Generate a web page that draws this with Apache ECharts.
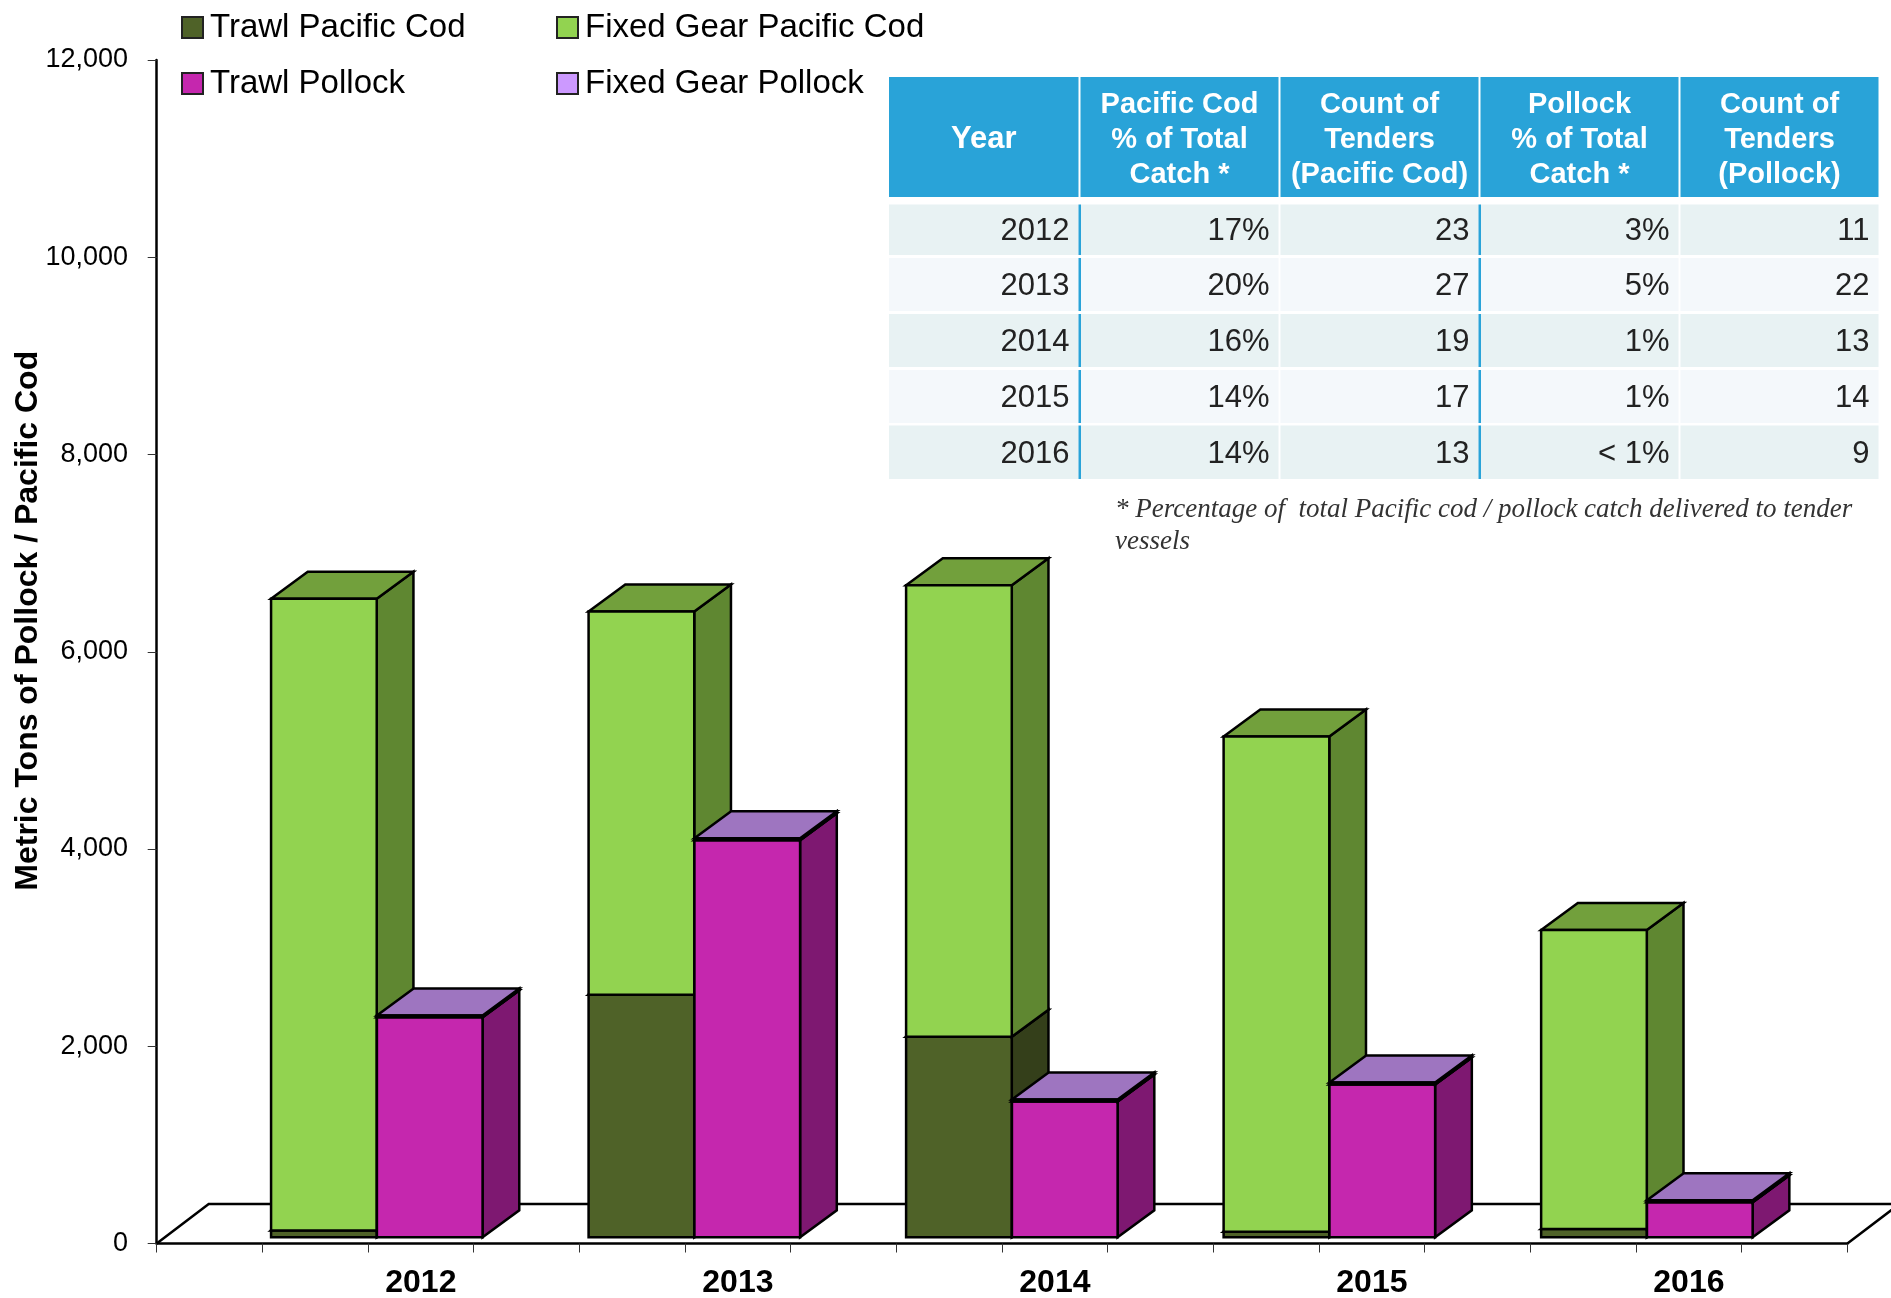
<!DOCTYPE html>
<html>
<head>
<meta charset="utf-8">
<title>Tender deliveries of Pacific cod and pollock</title>
<script src="https://cdn.jsdelivr.net/npm/echarts@6/dist/echarts.min.js"></script>
<style>
    html, body { margin: 0; background: #fff; }
    #chart { width: 1891px; height: 1298px; }
</style>
</head>
<body>
<div id="chart"></div>
<script>
var years = ['2012', '2013', '2014', '2015', '2016'];
var trawlCod = [70, 2459, 2034, 57, 84];
var fixedCod = [6404, 3887, 4578, 5021, 3032];
var trawlPollock = [2230, 4027, 1377, 1549, 355];
var fixedPollock = [20, 20, 20, 20, 20];
var yTicks = [0, 2000, 4000, 6000, 8000, 10000, 12000];

var tableHeaders = ['Year', 'Pacific Cod\n% of Total\nCatch *', 'Count of\nTenders\n(Pacific Cod)', 'Pollock\n% of Total\nCatch *', 'Count of\nTenders\n(Pollock)'];
var codShare = ['17%', '20%', '16%', '14%', '14%'];
var codTenders = ['23', '27', '19', '17', '13'];
var pollockShare = ['3%', '5%', '1%', '1%', '< 1%'];
var pollockTenders = ['11', '22', '13', '14', '9'];
var footnote = '* Percentage of  total Pacific cod / pollock catch delivered to tender\nvessels';

(function () {

    'use strict';

    var chart = echarts.init(document.getElementById('chart'), null, {renderer: 'canvas'});

    // the 3D look: each bar sits a little behind the axis plane and has some depth
    var barOffset = [8.7, -6.2];
    var barDepth = [36.7, -27];
    var floorDepth = [52, -39.5];
    var barDrift = 0.17; // the bars run slightly wider than the ticks in the original

    // 16 slots on the axis: gap, cod, pollock, gap, cod, pollock ...
    var slotLabels = [''];
    years.forEach(function (y) {
        slotLabels.push('', y, '');
    });

    function poly(points, fill, lineWidth) {
        return {
            type: 'polygon',
            shape: {points: points},
            style: {fill: fill, stroke: '#000', lineWidth: lineWidth, lineJoin: 'miter'}
        };
    }

    function renderBox(colors) {
        return function (params, api) {
            var w = api.size([1, 0])[0];
            var base = api.coord([api.value(0), api.value(1)]);
            var top = api.coord([api.value(0), api.value(2)]);
            var x0 = base[0] - w / 2 + barOffset[0] + (api.value(0) - 1) * barDrift;
            var x1 = x0 + w;
            var y0 = base[1] + barOffset[1];
            var y1 = top[1] + barOffset[1];
            var dx = barDepth[0];
            var dy = barDepth[1];
            return {
                type: 'group',
                children: [
                    poly([[x1, y0], [x1 + dx, y0 + dy], [x1 + dx, y1 + dy], [x1, y1]], colors.side, 2.5),
                    poly([[x0, y1], [x1, y1], [x1 + dx, y1 + dy], [x0 + dx, y1 + dy]], colors.top, 2.5),
                    poly([[x0, y0], [x1, y0], [x1, y1], [x0, y1]], colors.front, 2.5)
                ]
            };
        };
    }

    function boxSeries(name, slotStart, values, under, colors) {
        return {
            type: 'custom',
            name: name,
            clip: false,
            encode: {x: 0, y: 2},
            itemStyle: {color: colors.front},
            renderItem: renderBox(colors),
            data: values.map(function (v, i) {
                return [slotStart + i * 3, under[i], under[i] + v];
            })
        };
    }

    var noBase = [0, 0, 0, 0, 0];

    var floorSeries = {
        type: 'custom',
        silent: true,
        clip: false,
        encode: {x: 0, y: 1},
        data: [[0, 0]],
        renderItem: function (params, api) {
            var w = api.size([1, 0])[0];
            var a = api.coord([0, 0]);
            var b = api.coord([slotLabels.length - 1, 0]);
            var left = a[0] - w / 2;
            var right = b[0] + w / 2;
            return {
                type: 'polyline',
                shape: {points: [
                    [left, a[1]],
                    [left + floorDepth[0], a[1] + floorDepth[1]],
                    [right + floorDepth[0], a[1] + floorDepth[1]],
                    [right, a[1]]
                ]},
                style: {fill: null, stroke: '#000', lineWidth: 2.5}
            };
        }
    };

    // table, drawn as graphic elements over the empty part of the chart
    var colX = [888, 1079.5, 1279.5, 1479.5, 1679.5, 1879.5];
    var rowY = [204.5, 258, 314, 370, 425.5];
    var rowH = [50.5, 53, 53, 53, 53.5];
    var columns = [years, codShare, codTenders, pollockShare, pollockTenders];
    var rowColors = ['#E8F2F3', '#F4F8FB'];
    var tableBlue = '#29A3D8';
    var tableItems = [];

    tableHeaders.forEach(function (head, c) {
        tableItems.push({
            type: 'rect',
            shape: {x: colX[c] + 1, y: 77, width: colX[c + 1] - colX[c] - 2, height: 120},
            style: {fill: tableBlue}
        });
        tableItems.push({
            type: 'text',
            style: {
                text: head,
                x: (colX[c] + colX[c + 1]) / 2,
                y: 139.5,
                align: 'center',
                verticalAlign: 'middle',
                fill: '#fff',
                font: 'bold ' + (c === 0 ? 31 : 29) + 'px "Liberation Sans", Arial, sans-serif',
                lineHeight: 35
            }
        });
    });

    years.forEach(function (y, r) {
        columns.forEach(function (col, c) {
            tableItems.push({
                type: 'rect',
                shape: {x: colX[c] + 1, y: rowY[r], width: colX[c + 1] - colX[c] - 2, height: rowH[r]},
                style: {fill: rowColors[r % 2]}
            });
            tableItems.push({
                type: 'text',
                style: {
                    text: col[r],
                    x: colX[c + 1] - 10,
                    y: rowY[r] + rowH[r] / 2 + 2,
                    align: 'right',
                    verticalAlign: 'middle',
                    fill: '#222',
                    font: '31px "Liberation Sans", Arial, sans-serif'
                }
            });
        });
        [1, 3].forEach(function (c) {
            tableItems.push({
                type: 'rect',
                shape: {x: colX[c] - 1, y: rowY[r], width: 2.5, height: rowH[r]},
                style: {fill: tableBlue}
            });
        });
    });

    tableItems.push({
        type: 'text',
        style: {
            text: footnote,
            x: 1115,
            y: 526,
            align: 'left',
            verticalAlign: 'middle',
            fill: '#333',
            font: 'italic 27px "Liberation Serif", "Times New Roman", serif',
            lineHeight: 32
        }
    });

    function legendBlock(left, names) {
        return {
            left: left,
            top: 6,
            orient: 'vertical',
            itemWidth: 21,
            itemHeight: 21,
            itemGap: 23,
            icon: 'rect',
            selectedMode: false,
            data: names,
            itemStyle: {borderColor: '#222', borderWidth: 2},
            textStyle: {
                fontFamily: '"Liberation Sans", Arial, sans-serif',
                fontSize: 33,
                color: '#000',
                padding: [0, 0, 0, 2]
            }
        };
    }

    var option = {
        animation: false,
        backgroundColor: '#fff',
        legend: [
            legendBlock(176, ['Trawl Pacific Cod', 'Trawl Pollock']),
            legendBlock(551, ['Fixed Gear Pacific Cod', 'Fixed Gear Pollock'])
        ],
        grid: {left: 156.7, right: 43.6, top: 60, bottom: 54.5, outerBoundsMode: 'none'},
        xAxis: {
            type: 'category',
            data: slotLabels,
            boundaryGap: true,
            axisLine: {lineStyle: {color: '#000', width: 2.5}},
            axisTick: {show: true, length: 9, interval: 0, lineStyle: {color: '#333', width: 1}},
            axisLabel: {
                interval: 0,
                margin: 24,
                color: '#000',
                fontFamily: '"Liberation Sans", Arial, sans-serif',
                fontWeight: 'bold',
                fontSize: 32
            }
        },
        yAxis: {
            type: 'value',
            min: yTicks[0],
            max: yTicks[yTicks.length - 1],
            interval: yTicks[1] - yTicks[0],
            name: 'Metric Tons of Pollock / Pacific Cod',
            nameLocation: 'middle',
            nameGap: 113,
            nameRotate: 90,
            nameMoveOverlap: false,
            nameTextStyle: {
                color: '#000',
                fontFamily: '"Liberation Sans", Arial, sans-serif',
                fontWeight: 'bold',
                fontSize: 32,
                padding: [0, 0, 0, 62]
            },
            splitLine: {show: false},
            axisLine: {show: true, lineStyle: {color: '#000', width: 2.5}},
            axisTick: {show: true, length: 9, lineStyle: {color: '#333', width: 1}},
            axisLabel: {
                margin: 28.7,
                padding: [9, 0, 0, 0],
                color: '#000',
                fontFamily: '"Liberation Sans", Arial, sans-serif',
                fontSize: 27,
                formatter: function (v) {
                    return v.toLocaleString('en-US');
                }
            }
        },
        graphic: tableItems,
        series: [
            floorSeries,
            boxSeries('Trawl Pacific Cod', 1, trawlCod, noBase, {front: '#4F6228', side: '#343F1A', top: '#3F4F20'}),
            boxSeries('Fixed Gear Pacific Cod', 1, fixedCod, trawlCod, {front: '#92D350', side: '#5F8731', top: '#72A03C'}),
            boxSeries('Trawl Pollock', 2, trawlPollock, noBase, {front: '#C527AE', side: '#7E1871', top: '#9E1F8C'}),
            boxSeries('Fixed Gear Pollock', 2, fixedPollock, trawlPollock, {front: '#CC99FF', side: '#7E1871', top: '#9E75C0'})
        ]
    };

    chart.setOption(option);
}) ();
</script>
</body>
</html>
